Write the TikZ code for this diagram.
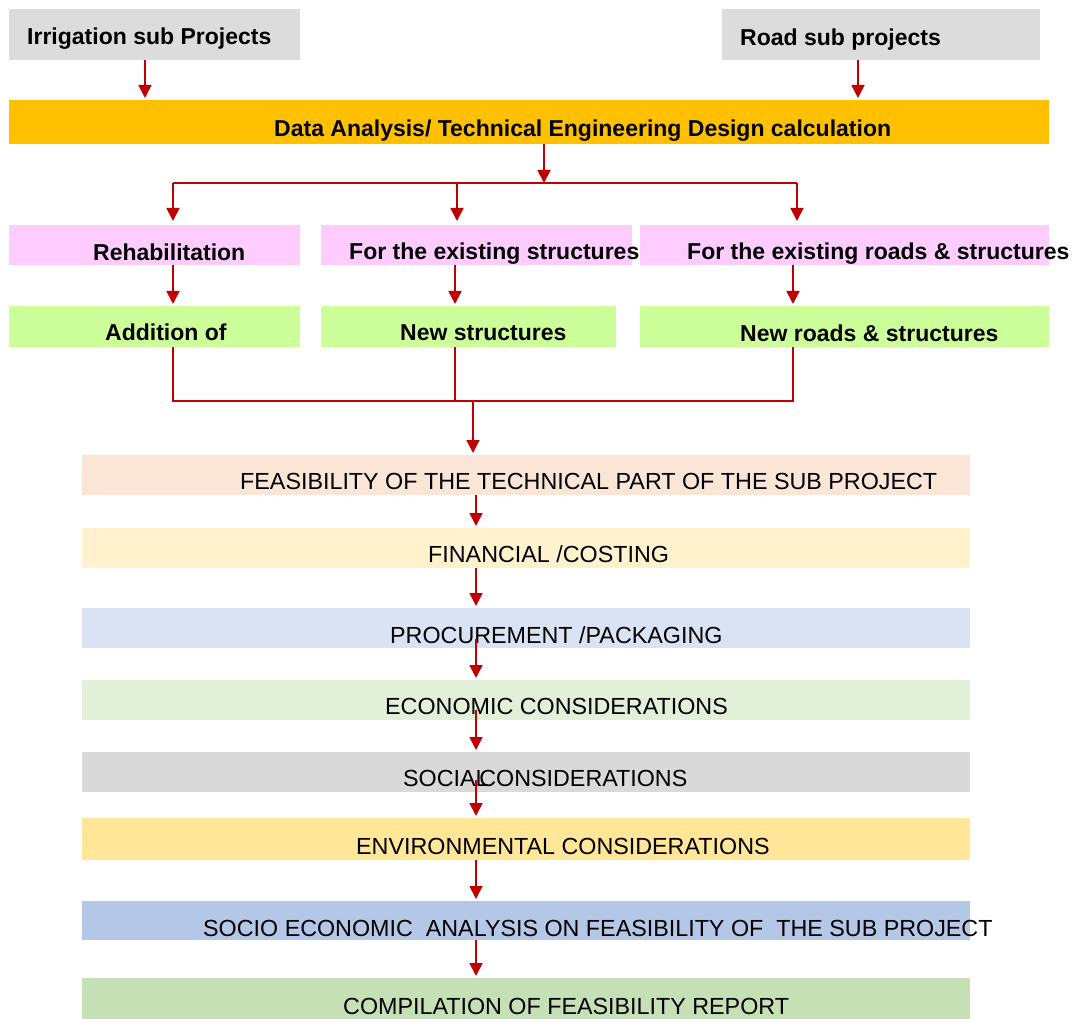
\documentclass[tikz,border=0pt]{standalone}
\usepackage{fontspec}
\setmainfont{Liberation Sans}
\usetikzlibrary{arrows.meta}
\definecolor{arrred}{HTML}{C00000}
\definecolor{topgray}{HTML}{DCDCDC}
\definecolor{barorange}{HTML}{FFC000}
\definecolor{pinkbox}{HTML}{FFCCFF}
\definecolor{greenbox}{HTML}{CCFF99}
\definecolor{cpeach}{HTML}{FBE5D6}
\definecolor{clyellow}{HTML}{FFF2CC}
\definecolor{clblue}{HTML}{DAE3F3}
\definecolor{clgreen}{HTML}{E2F0D9}
\definecolor{cgray}{HTML}{D9D9D9}
\definecolor{cyellow}{HTML}{FFE699}
\definecolor{cblue}{HTML}{B4C7E7}
\definecolor{cgreen}{HTML}{C5E0B4}
\begin{document}
\begin{tikzpicture}[x=1pt,y=-1pt,
  box/.style={rectangle, inner sep=0pt, anchor=north west, draw=none},
  blbl/.style={inner sep=0pt, anchor=west, text height=16.5pt, text depth=0pt, font=\fontsize{23}{27}\selectfont\bfseries},
  rlbl/.style={inner sep=0pt, anchor=west, text height=16.5pt, text depth=0pt, font=\fontsize{23.3}{27}\selectfont},
  conn/.style={draw=arrred, line width=1.8pt},
  arr/.style={conn, -{Triangle[length=13pt,width=13pt]}, shorten >=2pt}]
\useasboundingbox (0,0) rectangle (1077,1019);
% boxes
\node[box, fill=topgray, minimum width=291pt, minimum height=51pt] (irr) at (9,9) {};
\node[box, fill=topgray, minimum width=318pt, minimum height=51pt] (road) at (722,9) {};
\node[box, fill=barorange, minimum width=1040pt, minimum height=44pt] (data) at (9,100) {};
\node[box, fill=pinkbox, minimum width=291pt, minimum height=40pt] (reh) at (9,225) {};
\node[box, fill=pinkbox, minimum width=311pt, minimum height=40pt] (exs) at (321,225) {};
\node[box, fill=pinkbox, minimum width=409pt, minimum height=40pt] (exr) at (640,225) {};
\node[box, fill=greenbox, minimum width=291pt, minimum height=41pt] (add) at (9,306) {};
\node[box, fill=greenbox, minimum width=295pt, minimum height=41pt] (nst) at (321,306) {};
\node[box, fill=greenbox, minimum width=409pt, minimum height=41pt] (nrd) at (640,306) {};
\node[box, fill=cpeach, minimum width=888pt, minimum height=40pt] (f1) at (82,455) {};
\node[box, fill=clyellow, minimum width=888pt, minimum height=40pt] (f2) at (82,528) {};
\node[box, fill=clblue, minimum width=888pt, minimum height=40pt] (f3) at (82,608) {};
\node[box, fill=clgreen, minimum width=888pt, minimum height=40pt] (f4) at (82,680) {};
\node[box, fill=cgray, minimum width=888pt, minimum height=40pt] (f5) at (82,752) {};
\node[box, fill=cyellow, minimum width=888pt, minimum height=42pt] (f6) at (82,818) {};
\node[box, fill=cblue, minimum width=888pt, minimum height=39pt] (f7) at (82,901) {};
\node[box, fill=cgreen, minimum width=888pt, minimum height=41pt] (f8) at (82,978) {};
% labels
\node[blbl] (tirr) at (27,36) {Irrigation sub Projects};
\node[blbl] (troad) at (740,37) {Road sub projects};
\node[blbl] (tdata) at (274,128) {Data Analysis/ Technical Engineering Design calculation};
\node[blbl] (treh) at (93,252) {Rehabilitation};
\node[blbl] (texs) at (349,251) {For the existing structures};
\node[blbl] (texr) at (687,251) {For the existing roads \& structures};
\node[blbl] (tadd) at (105,332) {Addition of};
\node[blbl] (tnst) at (400,332) {New structures};
\node[blbl] (tnrd) at (740,333) {New roads \& structures};
\node[rlbl] (tf1) at (240,481) {FEASIBILITY OF THE TECHNICAL PART OF THE SUB PROJECT};
\node[rlbl] (tf2) at (428,554) {FINANCIAL /COSTING};
\node[rlbl] (tf3) at (390,635) {PROCUREMENT /PACKAGING};
\node[rlbl] (tf4) at (385,706) {ECONOMIC CONSIDERATIONS};
\node[rlbl] (tf5) at (403,778) {SOCIAL\kern-0.4em CONSIDERATIONS};
\node[rlbl] (tf6) at (356,846) {ENVIRONMENTAL CONSIDERATIONS};
\node[rlbl] (tf7) at (203,928) {SOCIO ECONOMIC \ ANALYSIS ON FEASIBILITY OF \ THE SUB PROJECT};
\node[rlbl] (tf8) at (343,1006) {COMPILATION OF FEASIBILITY REPORT};
% columns
\coordinate (xa) at (145,0);
\coordinate (xb) at (858,0);
\coordinate (xs) at (544,183);
\coordinate (x1) at (173,0);
\coordinate (x2) at (457,0);
\coordinate (x3) at (797,0);
\coordinate (x2b) at (455,0);
\coordinate (x3b) at (793,0);
\coordinate (xj) at (473,401);
\coordinate (xc) at (476,0);
% connectors
\draw[arr] (irr.south -| xa) -- (data.north -| xa);
\draw[arr] (road.south -| xb) -- (data.north -| xb);
\draw[arr, shorten >=0pt] (data.south -| xs) -- (xs);
\draw[conn] (xs -| x1) -- (xs -| x3);
\draw[arr, shorten >=4pt] (xs -| x1) -- (reh.north -| x1);
\draw[arr, shorten >=4pt] (xs -| x2) -- (exs.north -| x2);
\draw[arr, shorten >=4pt] (xs -| x3) -- (exr.north -| x3);
\draw[arr] (reh.south -| x1) -- (add.north -| x1);
\draw[arr] (exs.south -| x2b) -- (nst.north -| x2b);
\draw[arr] (exr.south -| x3b) -- (nrd.north -| x3b);
\draw[conn] (add.south -| x1) -- (xj -| x1) -- (xj -| x3b) -- (nrd.south -| x3b);
\draw[conn] (nst.south -| x2b) -- (xj -| x2b);
\draw[arr] (xj) -- (f1.north -| xj);
\draw[arr] (f1.south -| xc) -- (f2.north -| xc);
\draw[arr] (f2.south -| xc) -- (f3.north -| xc);
\draw[arr] ([yshift=9pt]f3.south -| xc) -- (f4.north -| xc);
\draw[arr] ([yshift=10pt]f4.south -| xc) -- (f5.north -| xc);
\draw[arr] ([yshift=12pt]f5.south -| xc) -- (f6.north -| xc);
\draw[arr] (f6.south -| xc) -- (f7.north -| xc);
\draw[arr] (f7.south -| xc) -- (f8.north -| xc);
\end{tikzpicture}
\end{document}
